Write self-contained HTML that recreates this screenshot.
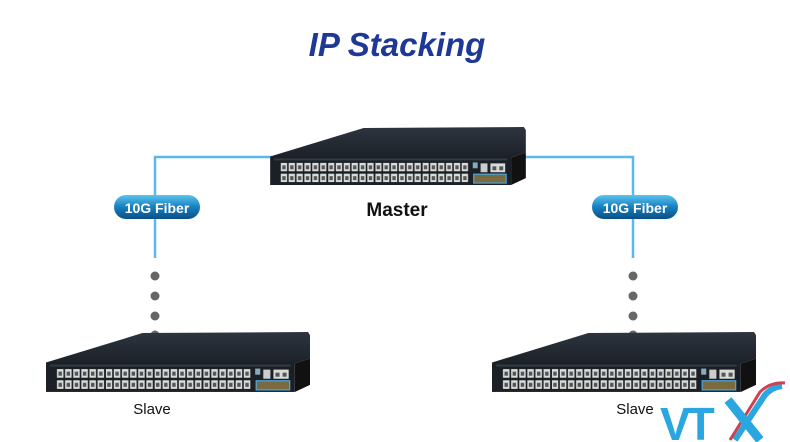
<!DOCTYPE html>
<html><head><meta charset="utf-8"><style>
body{margin:0;background:#fff;width:790px;height:442px;overflow:hidden;position:relative;font-family:"Liberation Sans",sans-serif}
</style></head><body>
<svg width="790" height="442" style="position:absolute;left:0;top:0">
<defs>
<linearGradient id="bg" x1="0" y1="0" x2="0" y2="1"><stop offset="0" stop-color="#5cc4ee"/><stop offset="0.5" stop-color="#1580c0"/><stop offset="1" stop-color="#0a4f88"/></linearGradient>
<linearGradient id="top" x1="0" y1="0" x2="0" y2="1"><stop offset="0" stop-color="#2e353f"/><stop offset="1" stop-color="#1c2128"/></linearGradient>
<pattern id="ports" x="10" y="36" width="8" height="11" patternUnits="userSpaceOnUse"><rect x="0.8" y="0.5" width="6.4" height="8.5" fill="#d8dcd8"/><rect x="2.3" y="3" width="3.4" height="4" fill="#555"/></pattern>
<symbol id="sw" viewBox="0 0 260 60">
<polygon points="0,30 95,1 258,0 260,3 260,26 245,31" fill="url(#top)"/>
<polygon points="245,31 260,26 260,52 245,59" fill="#111"/>
<rect x="0" y="30" width="245" height="29" fill="#1b2026"/>
<rect x="4" y="32" width="237" height="2" fill="#333a44"/>
<rect x="10" y="36" width="192" height="22" fill="url(#ports)"/>
<rect x="57.5" y="35" width="1.5" height="23" fill="#1b2026"/>
<rect x="105.5" y="35" width="1.5" height="23" fill="#1b2026"/>
<rect x="153.5" y="35" width="1.5" height="23" fill="#1b2026"/>
<rect x="206" y="36" width="5" height="6" fill="#8ab"/>
<rect x="214" y="37" width="7" height="9" fill="#ccc"/>
<rect x="224" y="37" width="15" height="9" fill="#d8dcd8"/>
<rect x="226" y="40" width="4" height="4" fill="#555"/><rect x="233" y="40" width="4" height="4" fill="#555"/>
<rect x="207" y="48" width="33" height="9" fill="#7a6a40" stroke="#4aa8e0" stroke-width="1.2"/>
</symbol>
</defs>
<g stroke="#5ab8ea" stroke-width="2.5" fill="none">
<polyline points="272,157 155,157 155,258"/>
<polyline points="522,157 633,157 633,258"/>
</g>
<g fill="#666">
<circle cx="155" cy="276" r="4.5"/><circle cx="155" cy="296" r="4.5"/><circle cx="155" cy="316" r="4.5"/><circle cx="155" cy="335" r="4.5"/>
<circle cx="633" cy="276" r="4.5"/><circle cx="633" cy="296" r="4.5"/><circle cx="633" cy="316" r="4.5"/><circle cx="633" cy="335" r="4.5"/>
</g>
<use href="#sw" x="269" y="127" width="258" height="59"/>
<use href="#sw" x="46" y="332" width="264" height="61"/>
<use href="#sw" x="492" y="332" width="264" height="61"/>
<rect x="114" y="195" width="86" height="24" rx="12" fill="url(#bg)"/>
<rect x="592" y="195" width="86" height="24" rx="12" fill="url(#bg)"/>
<text x="157" y="213" font-size="14" font-weight="bold" fill="#fff" text-anchor="middle" font-family="Liberation Sans">10G Fiber</text>
<text x="635" y="213" font-size="14" font-weight="bold" fill="#fff" text-anchor="middle" font-family="Liberation Sans">10G Fiber</text>
<text x="397" y="56" font-size="33" font-weight="bold" font-style="italic" fill="#1e3896" text-anchor="middle" font-family="Liberation Sans">IP Stacking</text>
<text x="397" y="216" font-size="19" font-weight="bold" fill="#111" text-anchor="middle" font-family="Liberation Sans">Master</text>
<text x="152" y="414" font-size="15" fill="#111" text-anchor="middle" font-family="Liberation Sans">Slave</text>
<text x="635" y="414" font-size="15" fill="#111" text-anchor="middle" font-family="Liberation Sans">Slave</text>
<text x="660" y="440" font-size="46" font-weight="bold" fill="#2aa6e0" font-family="Liberation Sans" letter-spacing="-4">VT</text>
<path d="M735,440 L765,395 Q772,387 782,386" stroke="#2aa6e0" stroke-width="6" fill="none"/>
<path d="M730,440 L760,392 Q770,382 785,383" stroke="#d04050" stroke-width="3" fill="none"/>
<path d="M728,400 L760,440" stroke="#2aa6e0" stroke-width="9" fill="none"/>
</svg>
</body></html>
